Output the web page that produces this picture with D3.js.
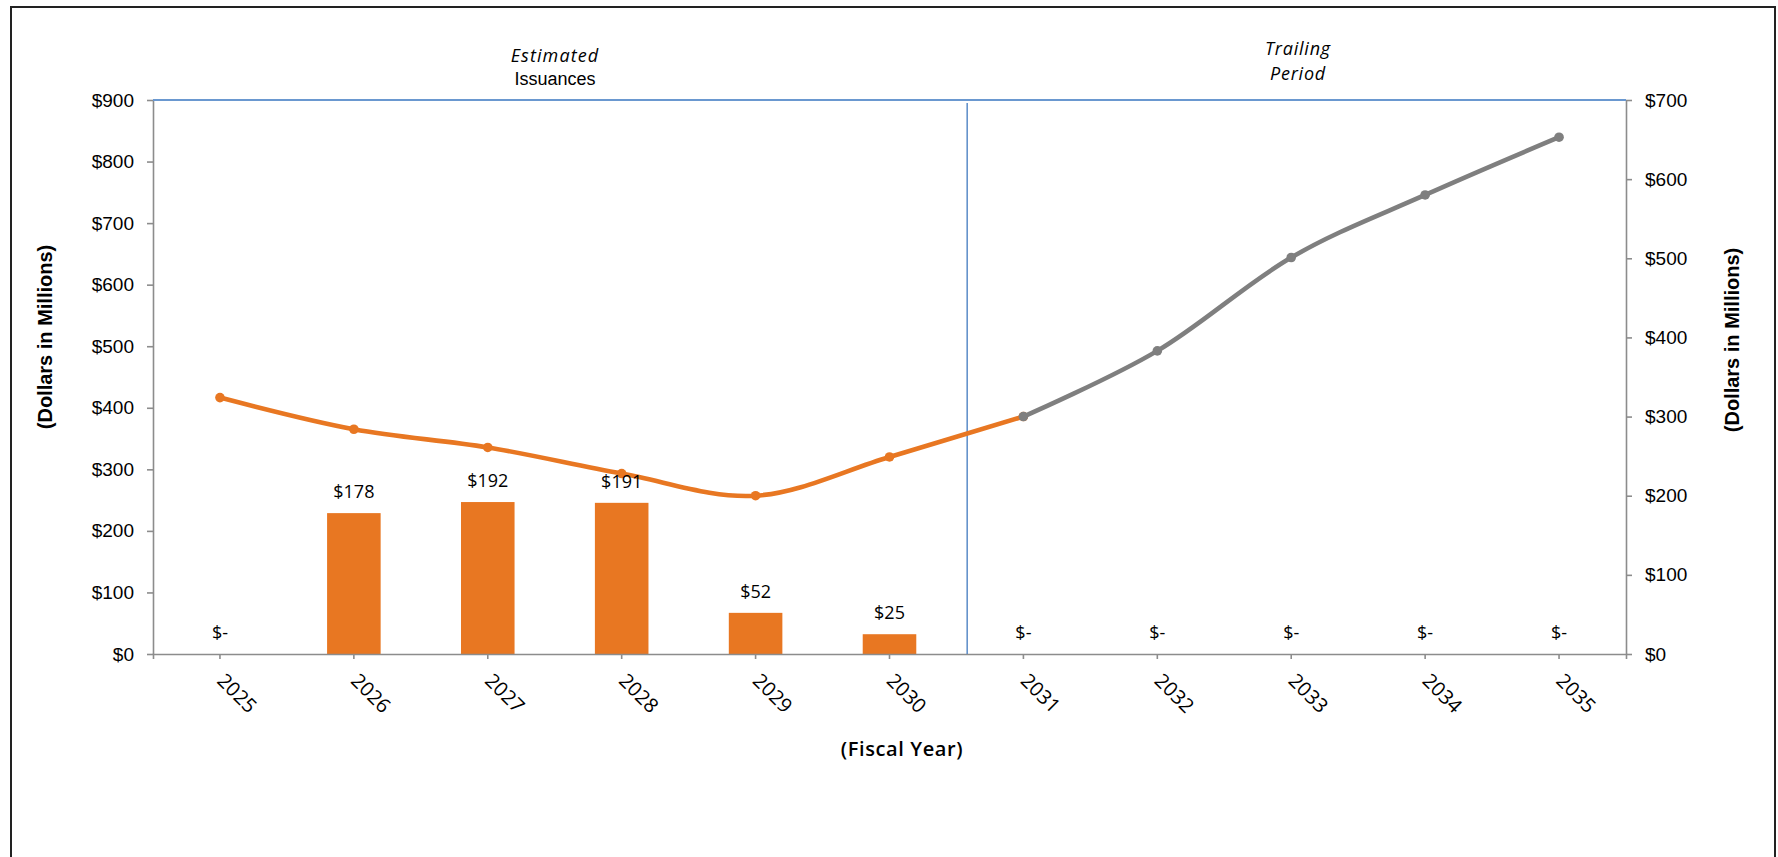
<!DOCTYPE html>
<html>
<head>
<meta charset="utf-8">
<script src="https://cdn.jsdelivr.net/npm/d3@7"></script>
<style>
  html, body { margin: 0; padding: 0; background: #fff; }
  svg { display: block; }
</style>
</head>
<body>
<svg id="chart" width="1778" height="857"></svg>
<script>
// Fiscal years on the category axis
const years = ["2025", "2026", "2027", "2028", "2029", "2030", "2031", "2032", "2033", "2034", "2035"];

// Estimated issuances (bars, right axis, $ millions)
const issuance = [0, 178, 192, 191, 52, 25, 0, 0, 0, 0, 0];

// Debt service during the issuance period (orange line)
const issuanceYears = ["2025", "2026", "2027", "2028", "2029", "2030", "2031"];
const issuanceService = [324, 284, 261, 228, 200, 249, 300];

// Debt service during the trailing period (gray line)
const trailingYears = ["2031", "2032", "2033", "2034", "2035"];
const trailingService = [300, 383, 501, 580, 653];

// Axis ticks
const leftTicks = [0, 100, 200, 300, 400, 500, 600, 700, 800, 900];
const rightTicks = [0, 100, 200, 300, 400, 500, 600, 700];

const svg = d3.select("#chart");
const W = 1778, H = 857;
const plot = { left: 153, right: 1626, top: 100, bottom: 654 };

const ORANGE = "#E87722";
const GRAY = "#7F7F7F";
const AXIS = "#8C8C8C";
const BLUE = "#6A98D0";

// Outer frame
svg.append("rect")
  .attr("x", 11).attr("y", 7)
  .attr("width", 1764).attr("height", H + 20)
  .attr("fill", "none").attr("stroke", "#222").attr("stroke-width", 2);

const x = d3.scaleBand().domain(years).range([plot.left, plot.right]).padding(0);
const yLeft = d3.scaleLinear().domain([0, 900]).range([plot.bottom, plot.top]);
const yRight = d3.scaleLinear().domain([0, 700]).range([plot.bottom, plot.top]);
const cx = d => x(d) + x.bandwidth() / 2;
const barW = x.bandwidth() * 0.4;

// Bars
svg.append("g").selectAll("rect")
  .data(years.map((y, i) => ({ year: y, v: issuance[i] })).filter(d => d.v > 0))
  .join("rect")
  .attr("x", d => cx(d.year) - barW / 2)
  .attr("y", d => yRight(d.v))
  .attr("width", barW)
  .attr("height", d => yRight(0) - yRight(d.v))
  .attr("fill", ORANGE);

// Axes
function styleAxis(g) {
  g.selectAll(".domain").attr("stroke", AXIS).attr("stroke-width", 1.6);
  g.selectAll(".tick line").attr("stroke", AXIS).attr("stroke-width", 1.6);
  g.selectAll("text").attr("fill", "#000");
}

const gLeft = svg.append("g")
  .attr("transform", `translate(${plot.left},0)`)
  .call(d3.axisLeft(yLeft).tickValues(leftTicks).tickFormat(d => "$" + d).tickSize(6).tickSizeOuter(0).tickPadding(13))
  .call(styleAxis);
gLeft.selectAll("text")
  .attr("font-family", "'Liberation Sans', Arial, sans-serif")
  .attr("font-size", 19);

const gRight = svg.append("g")
  .attr("transform", `translate(${plot.right},0)`)
  .call(d3.axisRight(yRight).tickValues(rightTicks).tickFormat(d => "$" + d).tickSize(6).tickSizeOuter(0).tickPadding(13))
  .call(styleAxis);
gRight.selectAll("text")
  .attr("font-family", "'Liberation Sans', Arial, sans-serif")
  .attr("font-size", 19);

const gBottom = svg.append("g")
  .attr("transform", `translate(0,${plot.bottom})`)
  .call(d3.axisBottom(x).tickSize(5).tickSizeOuter(5))
  .call(styleAxis);
gBottom.selectAll(".tick text")
  .attr("x", 0).attr("y", 0).attr("dy", 0)
  .attr("text-anchor", "start")
  .attr("transform", "translate(-4,28) rotate(45)")
  .attr("font-family", "'Open Sans', sans-serif")
  .attr("font-size", 20);

// Top boundary line of the plot area
svg.append("line")
  .attr("x1", plot.left).attr("x2", plot.right)
  .attr("y1", plot.top).attr("y2", plot.top)
  .attr("stroke", BLUE).attr("stroke-width", 2.2);

// Divider between issuance and trailing periods
const dividerX = cx("2030") + x.step() * 0.58;
svg.append("line")
  .attr("x1", dividerX).attr("x2", dividerX)
  .attr("y1", plot.top + 3).attr("y2", plot.bottom)
  .attr("stroke", "#4F83C4").attr("stroke-width", 1.4);

// Debt service lines
const line = d3.line()
  .x(d => cx(d.year))
  .y(d => yRight(d.v))
  .curve(d3.curveCatmullRom.alpha(0));

function drawSeries(yrs, vals, color) {
  const data = yrs.map((y, i) => ({ year: y, v: vals[i] }));
  svg.append("path")
    .datum(data)
    .attr("d", line)
    .attr("fill", "none")
    .attr("stroke", color)
    .attr("stroke-width", 4.6)
    .attr("stroke-linejoin", "round");
  svg.append("g").selectAll("circle")
    .data(data)
    .join("circle")
    .attr("cx", d => cx(d.year))
    .attr("cy", d => yRight(d.v))
    .attr("r", 4.8)
    .attr("fill", color);
}
drawSeries(issuanceYears, issuanceService, ORANGE);
drawSeries(trailingYears, trailingService, GRAY);

// Bar value labels
svg.append("g").selectAll("text")
  .data(years.map((y, i) => ({ year: y, v: issuance[i] })))
  .join("text")
  .attr("x", d => cx(d.year))
  .attr("y", d => yRight(d.v) - 15)
  .attr("text-anchor", "middle")
  .attr("font-family", "'Open Sans', sans-serif")
  .attr("font-size", 18)
  .attr("fill", "#000")
  .text(d => d.v > 0 ? "$" + d.v : "$-");

// Axis titles
svg.append("text")
  .attr("transform", "translate(45,337) rotate(-90)")
  .attr("text-anchor", "middle")
  .attr("dominant-baseline", "central")
  .attr("font-family", "'Liberation Sans', Arial, sans-serif")
  .attr("font-weight", "bold")
  .attr("font-size", 20)
  .text("(Dollars in Millions)");

svg.append("text")
  .attr("transform", "translate(1732,340) rotate(-90)")
  .attr("text-anchor", "middle")
  .attr("dominant-baseline", "central")
  .attr("font-family", "'Liberation Sans', Arial, sans-serif")
  .attr("font-weight", "bold")
  .attr("font-size", 20)
  .text("(Dollars in Millions)");

svg.append("text")
  .attr("x", 902).attr("y", 748)
  .attr("text-anchor", "middle")
  .attr("dominant-baseline", "central")
  .attr("font-family", "'Open Sans', sans-serif")
  .attr("font-weight", 600)
  .attr("font-size", 20)
  .attr("letter-spacing", 0.6)
  .text("(Fiscal Year)");

// Period captions
svg.append("text")
  .attr("x", 555).attr("y", 62)
  .attr("text-anchor", "middle")
  .attr("font-family", "'Open Sans', sans-serif")
  .attr("font-style", "italic")
  .attr("font-size", 18)
  .attr("letter-spacing", 1.1)
  .text("Estimated");
svg.append("text")
  .attr("x", 555).attr("y", 85)
  .attr("text-anchor", "middle")
  .attr("font-family", "'Liberation Sans', Arial, sans-serif")
  .attr("font-size", 18)
  .text("Issuances");

svg.append("text")
  .attr("x", 1298).attr("y", 55)
  .attr("text-anchor", "middle")
  .attr("font-family", "'Open Sans', sans-serif")
  .attr("font-style", "italic")
  .attr("font-size", 18)
  .attr("letter-spacing", 0.8)
  .text("Trailing");
svg.append("text")
  .attr("x", 1298).attr("y", 80)
  .attr("text-anchor", "middle")
  .attr("font-family", "'Open Sans', sans-serif")
  .attr("font-style", "italic")
  .attr("font-size", 18)
  .attr("letter-spacing", 0.8)
  .text("Period");
</script>
</body>
</html>
